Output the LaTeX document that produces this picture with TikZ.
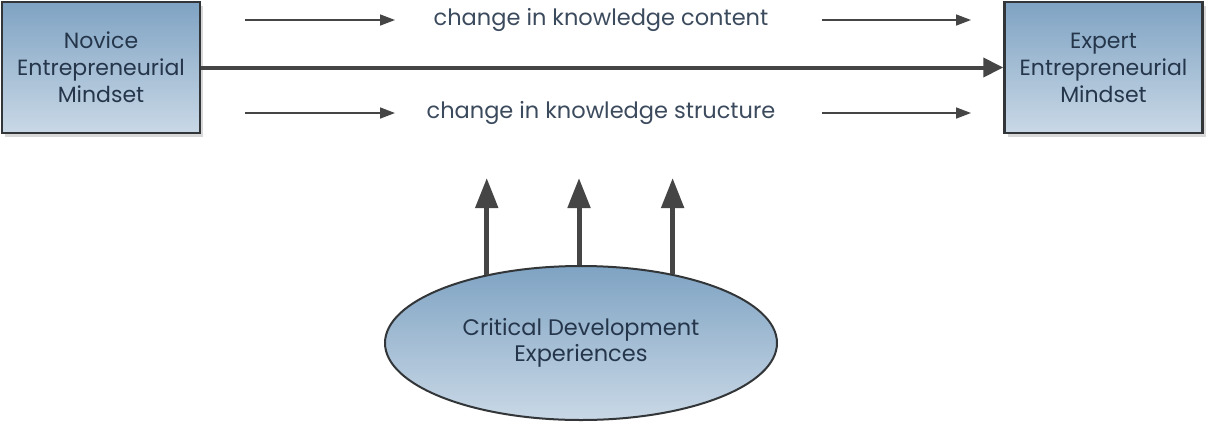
\documentclass[tikz,border=0pt]{standalone}
\usepackage{fontspec}
\setmainfont{Poppins}
\usetikzlibrary{arrows.meta,shapes.geometric,shadows}
\definecolor{inkblue}{HTML}{25364B}
\definecolor{fillTop}{HTML}{7FA3C3}
\definecolor{fillBot}{HTML}{C9D8E6}
\definecolor{edge}{HTML}{333638}
\definecolor{arrowgray}{HTML}{454545}
\tikzset{
  mindbox/.style={draw=edge, line width=2.5pt, top color=fillTop, bottom color=fillBot,
    minimum width=198pt, minimum height=131pt, align=center, text=inkblue,
    font=\fontsize{22}{27}\selectfont,
    drop shadow={shadow xshift=3pt, shadow yshift=-4pt, fill=black!30, opacity=.5}},
  expbox/.style={ellipse, draw=edge, line width=2pt, top color=fillTop, bottom color=fillBot,
    minimum width=392pt, minimum height=154pt, align=center, text=inkblue,
    font=\fontsize{22.5}{26}\selectfont},
  changetext/.style={text=inkblue!90, font=\fontsize{22.5}{27}\selectfont},
  thinarrow/.style={draw=arrowgray, line width=1.6pt, -{Triangle[length=15pt,width=11pt]}},
  mainarrow/.style={draw=arrowgray, line width=4pt, -{Triangle[length=20pt,width=19pt]}},
  varrow/.style={draw=arrowgray, line width=5pt, -{Triangle[length=30pt,width=22pt]}}
}
\begin{document}
\begin{tikzpicture}[x=1pt,y=-1pt]
\useasboundingbox[fill=white] (0,0) rectangle (1207,432);

% the two mindset boxes
\node[mindbox] (novice) at (101,67.5) {Novice\\Entrepreneurial\\Mindset};
\node[mindbox] (expert) at (1103.5,67.5) {Expert\\Entrepreneurial\\Mindset};

% direct path between the mindsets
\draw[mainarrow] (novice.east) -- (expert.west);

% labels for the two kinds of change
\node[changetext] (content) at (601,20) {change in knowledge content};
\node[changetext] (structure) at (601,113) {change in knowledge structure};

% short arrows flanking the labels
\coordinate (c1s) at (245,20);  \coordinate (c1e) at (395,20);
\coordinate (c2s) at (822,20);  \coordinate (c2e) at (971,20);
\coordinate (s1s) at (245,113); \coordinate (s1e) at (395,113);
\coordinate (s2s) at (822,113); \coordinate (s2e) at (971,113);
\draw[thinarrow] (c1s) -- (c1e);
\draw[thinarrow] (c2s) -- (c2e);
\draw[thinarrow] (s1s) -- (s1e);
\draw[thinarrow] (s2s) -- (s2e);

% experiences feeding the change
\node[expbox] (cde) at (581,343) {Critical Development\\Experiences};
\coordinate (tipline) at (0,178);
\draw[varrow] (cde.144) -- (cde.144 |- tipline);
\draw[varrow] ([xshift=-2pt]cde.north) -- ([xshift=-2pt]cde.north |- tipline);
\draw[varrow] (cde.37) -- (cde.37 |- tipline);
\end{tikzpicture}
\end{document}
